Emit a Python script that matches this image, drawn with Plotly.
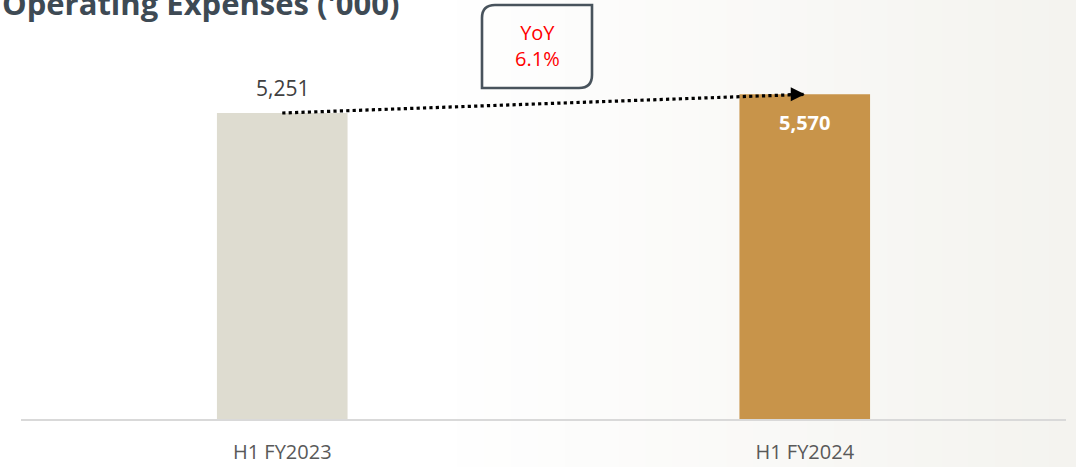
import plotly.graph_objects as go

# Half-year operating expenses, thousands
periods = ["H1 FY2023", "H1 FY2024"]
expenses = [5251, 5570]
bar_colors = ["#dedcd0", "#c8944a"]
yoy_text = "YoY<br>6.1%"
title_text = "Operating Expenses ('000)"

W, H = 1076, 467
M_L, M_R, M_T, M_B = 21, 10, 40, 47
PLOT_W = W - M_L - M_R
PLOT_H = H - M_T - M_B


def px_x(x):
    """Pixel column -> paper x."""
    return (x - M_L) / PLOT_W


def px_y(y):
    """Pixel row -> paper y."""
    return (H - M_B - y) / PLOT_H


fig = go.Figure()

fig.add_trace(go.Bar(
    x=periods,
    y=expenses,
    width=0.25,
    marker=dict(color=bar_colors, line=dict(width=0)),
    hoverinfo="skip",
))

# dotted growth line between the two bar tops
fig.add_trace(go.Scatter(
    x=periods,
    y=expenses,
    mode="lines",
    line=dict(color="#000000", width=3.2, dash="dot"),
    hoverinfo="skip",
))

shapes = []

# soft background wash: white on the left fading to warm grey on the right
n_strips = 40
for i in range(n_strips):
    a = W * i / n_strips
    b = W * (i + 1) / n_strips
    t = max(0.0, (i / (n_strips - 1) - 0.4) / 0.6)
    r = round(255 - (255 - 244) * t)
    g = round(255 - (255 - 243) * t)
    bl = round(255 - (255 - 239) * t)
    shapes.append(dict(
        type="rect", xref="paper", yref="paper",
        x0=px_x(a), x1=px_x(b + 1), y0=px_y(H), y1=px_y(0),
        fillcolor=f"rgb({r},{g},{bl})", line=dict(width=0), layer="below",
    ))

# axis baseline
shapes.append(dict(
    type="line", xref="paper", yref="paper",
    x0=0, x1=1, y0=0, y1=0,
    line=dict(color="#d9d9d9", width=2),
))

# YoY call-out box with two rounded corners (top-left, bottom-right)
bx0, bx1, by0, by1, rad = 482, 592, 5, 88, 13
path = (
    f"M {px_x(bx0)},{px_y(by0 + rad)} "
    f"Q {px_x(bx0)},{px_y(by0)} {px_x(bx0 + rad)},{px_y(by0)} "
    f"L {px_x(bx1)},{px_y(by0)} "
    f"L {px_x(bx1)},{px_y(by1 - rad)} "
    f"Q {px_x(bx1)},{px_y(by1)} {px_x(bx1 - rad)},{px_y(by1)} "
    f"L {px_x(bx0)},{px_y(by1)} Z"
)
shapes.append(dict(
    type="path", xref="paper", yref="paper", path=path,
    line=dict(color="#48535c", width=2.6), fillcolor="rgba(255,255,255,0)",
))

annotations = [
    # chart heading
    dict(
        text=f"<b>{title_text}</b>", xref="paper", yref="paper",
        x=px_x(0), y=px_y(26), xanchor="left", yanchor="bottom",
        showarrow=False, font=dict(family="Open Sans", size=31, color="#3e4a54"),
    ),
    # value above first bar
    dict(
        text=f"{expenses[0]:,}", x=periods[0], y=expenses[0],
        yshift=25, showarrow=False,
        font=dict(family="Open Sans", size=21, color="#404040"),
    ),
    # value inside second bar
    dict(
        text=f"<b>{expenses[1]:,}</b>", x=periods[1], y=expenses[1],
        yshift=-28, showarrow=False,
        font=dict(family="Open Sans", size=20, color="#ffffff"),
    ),
    # arrowhead at the end of the dotted line
    dict(
        text="", x=periods[1], y=expenses[1], ax=-18, ay=0,
        axref="pixel", ayref="pixel",
        showarrow=True, arrowhead=2, arrowwidth=2, arrowsize=1.4,
        arrowcolor="#000000",
    ),
    # YoY figure inside the call-out
    dict(
        text=yoy_text, xref="paper", yref="paper",
        x=px_x((bx0 + bx1) / 2), y=px_y((by0 + by1) / 2 - 1),
        xanchor="center", yanchor="middle", showarrow=False, align="center",
        font=dict(family="Open Sans", size=20, color="#ff0000"),
    ),
]

fig.update_layout(
    width=W, height=H,
    margin=dict(l=M_L, r=M_R, t=M_T, b=M_B, pad=0, autoexpand=False),
    paper_bgcolor="#ffffff",
    plot_bgcolor="rgba(0,0,0,0)",
    showlegend=False,
    shapes=shapes,
    annotations=annotations,
    xaxis=dict(
        type="category", range=[-0.5, 1.5], automargin=False,
        showgrid=False, zeroline=False, showline=False,
        ticks="", ticklabelstandoff=18,
        tickfont=dict(family="Open Sans", size=20, color="#595959"),
    ),
    yaxis=dict(
        range=[0, 6500], automargin=False, showgrid=False, zeroline=False,
        showline=False, showticklabels=False, ticks="",
    ),
)

fig.write_html("out.html")
